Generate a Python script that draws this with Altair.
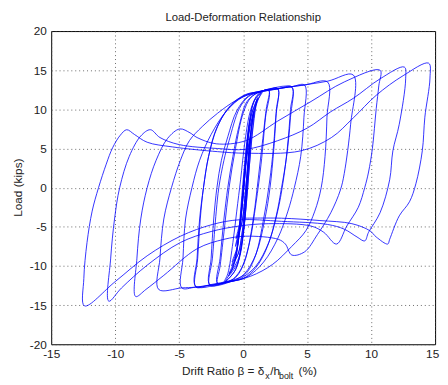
import altair as alt
import pandas as pd

# ---- axis ticks ----
x_ticks = [-15, -10, -5, 0, 5, 10, 15]
y_ticks = [-20, -15, -10, -5, 0, 5, 10, 15, 20]

# ---- hysteresis branches (drift %, load kips) ----
# u = reloading toward positive peak, d = unloading toward negative peak
u01 = [(0.0, 0.0), (0.2, 3.0), (0.5, 6.0)]
d01 = [(0.5, 6.0), (0.35, 3.0), (0.15, -1.0), (-0.1, -4.5), (-0.55, -6.5)]
u02 = [(-0.55, -6.5), (-0.2, -4.0), (0.05, 0.0), (0.3, 4.0), (0.6, 7.0)]
d02 = [(0.6, 7.0), (0.4, 3.5), (0.2, 0.0), (-0.05, -4.0), (-0.6, -7.5)]
u03 = [(-0.6, -7.5), (-0.3, -5.0), (0.0, 0.0), (0.25, 4.0), (0.5, 7.5), (0.8, 9.5)]
d03 = [(0.8, 9.5), (0.55, 6.5), (0.35, 2.0), (0.15, -2.0), (-0.1, -6.0), (-0.4, -8.5), (-0.85, -9.5)]
u04 = [(-0.85, -9.5), (-0.45, -7.5), (-0.1, -3.0), (0.15, 2.0), (0.4, 6.5), (0.85, 9.8)]
d04 = [(0.85, 9.8), (0.6, 7.0), (0.4, 2.5), (0.2, -1.5), (-0.05, -5.5), (-0.4, -8.5), (-0.9, -10.0)]
u05 = [(-0.9, -10.0), (-0.5, -8.0), (-0.2, -4.0), (0.1, 1.0), (0.35, 6.0), (0.6, 9.0), (1.1, 11.3)]
d05 = [(1.1, 11.3), (0.75, 9.0), (0.5, 5.0), (0.3, 0.5), (0.05, -5.0), (-0.35, -9.0), (-1.1, -11.0)]
u06 = [(-1.1, -11.0), (-0.6, -9.0), (-0.25, -5.0), (0.05, 0.0), (0.3, 5.0), (0.6, 9.0), (1.15, 11.5)]
d06 = [(1.15, 11.5), (0.8, 9.5), (0.55, 5.5), (0.3, 0.0), (0.05, -5.5), (-0.4, -9.5), (-1.15, -11.3)]
u07 = [(-1.15, -11.3), (-0.65, -9.5), (-0.3, -5.5), (0.0, 0.0), (0.25, 5.0), (0.55, 9.0), (0.9, 11.2), (1.4, 12.2)]
d07 = [(1.4, 12.2), (1.0, 10.5), (0.7, 7.0), (0.45, 2.0), (0.2, -3.0), (-0.15, -7.5), (-0.6, -10.5), (-1.4, -12.0)]
u08 = [(-1.4, -12.0), (-0.8, -10.2), (-0.4, -6.5), (-0.1, -1.0), (0.2, 4.5), (0.5, 8.5), (0.85, 11.0), (1.5, 12.2)]
d08 = [(1.5, 12.2), (1.1, 11.0), (0.8, 8.0), (0.5, 3.0), (0.25, -2.0), (-0.1, -7.0), (-0.6, -10.5), (-1.5, -12.1)]
u09 = [(-1.5, -12.1), (-1.2, -11.0), (-0.8, -7.0), (-0.5, -3.0), (-0.2, 1.0), (0.15, 6.0), (0.6, 10.0), (1.2, 12.0), (2.0, 12.5)]
d09 = [(2.0, 12.5), (1.8, 10.0), (1.45, 5.0), (1.1, 0.0), (0.7, -5.0), (0.1, -9.5), (-0.6, -11.5), (-1.3, -12.0), (-2.0, -12.3)]
u10 = [(-2.0, -12.3), (-1.8, -10.0), (-1.45, -5.0), (-1.1, 0.0), (-0.6, 5.0), (0.0, 9.5), (0.6, 11.5), (1.3, 12.2), (2.0, 12.4)]
d10 = [(2.0, 12.4), (1.75, 9.0), (1.4, 3.0), (1.0, -2.0), (0.5, -7.0), (-0.2, -10.5), (-1.0, -11.9), (-2.0, -12.2)]
u11 = [(-2.0, -12.2), (-1.8, -9.0), (-1.5, -4.0), (-1.2, 0.0), (-0.8, 4.0), (-0.3, 8.0), (0.3, 11.0), (1.2, 12.2), (2.0, 12.5), (2.7, 12.7)]
d11 = [(2.7, 12.7), (2.55, 9.0), (2.3, 4.0), (2.0, 0.0), (1.6, -4.0), (0.96, -8.7), (0.2, -11.0), (-0.6, -11.7), (-1.4, -12.1), (-2.6, -12.5)]
u12 = [(-2.6, -12.5), (-2.4, -9.0), (-2.1, -3.0), (-1.9, 0.0), (-1.5, 3.5), (-1.1, 6.0), (-0.3, 10.1), (0.4, 11.6), (1.2, 12.2), (2.7, 12.6)]
d12 = [(2.7, 12.6), (2.6, 10.0), (2.4, 5.0), (2.1, 0.0), (1.7, -4.0), (1.0, -8.5), (0.1, -11.0), (-0.8, -11.9), (-2.6, -12.4)]
u13 = [(-2.6, -12.4), (-2.5, -9.0), (-2.3, -4.0), (-2.05, 0.0), (-1.7, 3.5), (-1.2, 6.5), (-0.5, 9.8), (0.4, 11.7), (1.3, 12.2), (2.7, 12.6), (3.8, 12.9)]
d13 = [(3.8, 12.9), (3.7, 9.0), (3.4, 4.0), (3.0, 0.0), (2.6, -3.5), (1.9, -7.5), (1.0, -10.2), (0.0, -11.6), (-1.3, -12.0), (-2.6, -12.4), (-3.7, -12.7)]
u14 = [(-3.7, -12.7), (-3.55, -9.0), (-3.35, -4.0), (-3.1, 0.0), (-2.7, 4.0), (-2.1, 7.5), (-1.2, 10.0), (0.0, 11.7), (1.3, 12.3), (3.8, 12.8)]
d14 = [(3.8, 12.8), (3.7, 10.0), (3.45, 5.0), (3.1, 0.5), (2.7, -3.0), (2.0, -7.0), (1.0, -10.0), (-0.2, -11.6), (-1.4, -12.1), (-3.7, -12.6)]
u15 = [(-3.7, -12.6), (-3.6, -9.0), (-3.4, -4.0), (-3.1, 0.0), (-2.7, 4.0), (-2.0, 7.8), (-1.0, 10.5), (0.2, 11.9), (1.5, 12.3), (3.8, 12.9), (4.8, 13.1)]
d15 = [(4.8, 13.1), (4.75, 9.0), (4.5, 4.0), (4.0, 0.0), (3.5, -3.0), (2.7, -6.5), (1.6, -9.5), (0.3, -11.4), (-1.3, -12.1), (-3.7, -12.7), (-4.8, -12.8)]
u16 = [(-4.8, -12.8), (-4.7, -9.0), (-4.5, -4.0), (-4.0, 0.0), (-3.4, 3.5), (-2.5, 6.8), (-1.3, 9.8), (0.0, 11.6), (1.5, 12.3), (3.8, 12.9), (4.8, 13.1), (6.6, 13.5)]
d16 = [(6.6, 13.5), (6.55, 9.0), (6.4, 4.0), (6.1, 0.0), (5.6, -3.0), (4.9, -5.5), (3.8, -7.5), (2.3, -9.8), (0.6, -11.3), (-1.3, -12.1), (-3.7, -12.7), (-4.8, -12.8), (-6.6, -13.0)]
u17 = [(-6.6, -13.0), (-6.5, -9.0), (-6.2, -4.0), (-5.6, 0.0), (-4.9, 3.5), (-4.2, 6.0), (-3.2, 7.8), (-2.0, 9.5), (-0.5, 11.2), (1.0, 12.2), (3.8, 12.9), (6.6, 13.6), (8.6, 14.4)]
d17 = [(8.6, 14.4), (8.4, 8.1), (7.9, 1.8), (7.6, -0.3), (6.85, -3.2), (5.8, -6.0), (4.8, -8.2), (3.8, -8.6), (3.3, -7.2), (2.75, -6.6), (0.2, -6.2), (-1.5, -6.6), (-3.6, -7.8), (-6.2, -11.2), (-7.6, -13.0), (-8.4, -13.9)]
u18 = [(-8.4, -13.9), (-8.3, -9.0), (-8.0, -4.0), (-7.5, 0.0), (-6.8, 3.5), (-5.9, 6.3), (-4.95, 7.5), (-4.15, 7.0), (-3.6, 6.4), (-2.1, 5.6), (0.2, 6.0), (2.7, 8.5), (5.3, 11.0), (7.9, 13.5), (10.7, 15.0)]
d18 = [(10.7, 15.0), (10.6, 13.0), (10.4, 10.1), (10.1, 5.0), (9.8, 2.0), (9.5, 0.0), (9.0, -2.5), (8.1, -4.9), (7.3, -7.2), (6.3, -5.7), (5.3, -4.9), (2.0, -4.6), (-0.3, -4.9), (-2.5, -5.6), (-4.9, -7.0), (-7.5, -9.9), (-9.5, -12.8), (-10.5, -14.5)]
u19 = [(-10.5, -14.5), (-10.35, -9.0), (-10.05, -4.0), (-9.65, 0.0), (-8.9, 4.0), (-8.0, 6.6), (-7.25, 7.4), (-6.5, 6.4), (-5.0, 5.5), (-2.0, 5.0), (0.2, 4.9), (2.7, 6.0), (5.0, 7.6), (6.85, 9.7), (8.6, 11.4), (10.7, 13.9), (12.6, 15.4)]
d19 = [(12.6, 15.4), (12.7, 13.9), (12.2, 8.1), (11.7, 4.7), (11.45, 1.0), (10.7, -3.2), (9.8, -5.7), (9.5, -6.8), (8.9, -6.3), (7.9, -5.3), (6.6, -4.7), (3.0, -4.3), (-0.3, -4.1), (-2.4, -4.7), (-4.9, -6.2), (-7.5, -8.7), (-10.0, -12.0), (-12.4, -15.1)]
u20 = [(-12.4, -15.1), (-12.45, -11.6), (-12.2, -7.0), (-11.8, -3.0), (-11.3, 0.0), (-10.7, 3.0), (-10.2, 5.1), (-9.6, 6.7), (-9.1, 7.4), (-8.5, 6.8), (-7.5, 5.8), (-5.5, 5.2), (-2.0, 4.6), (0.2, 4.4), (4.5, 4.7), (6.9, 6.4), (8.6, 8.9), (10.4, 11.8), (12.5, 14.3), (14.5, 15.9)]
d20 = [(14.5, 15.9), (14.6, 14.0), (14.2, 9.0), (14.0, 4.7), (13.5, 0.5), (13.0, -1.8), (12.2, -3.6), (11.45, -6.6), (11.3, -7.2), (10.4, -6.3), (9.9, -5.5), (8.5, -4.6), (6.0, -4.2), (3.0, -3.9), (0.0, -3.9)]

branches = [u01, d01, u02, d02, u03, d03, u04, d04, u05, d05, u06, d06, u07, d07,
            u08, d08, u09, d09, u10, d10, u11, d11, u12, d12, u13, d13, u14, d14,
            u15, d15, u16, d16, u17, d17, u18, d18, u19, d19, u20, d20]

rows = []
for bi, br in enumerate(branches):
    pts = br if bi == 0 else br[1:]
    for (dx, ld) in pts:
        rows.append({"i": len(rows), "drift": dx, "load": ld})
df = pd.DataFrame(rows)

FONT = "Liberation Sans"
W, H = 391, 319

xs = alt.Scale(domain=[-15, 15], nice=False, zero=False)
ys = alt.Scale(domain=[-20, 20], nice=False, zero=False)

axis_common = dict(grid=True, gridDash=[1, 3], gridColor="#444", gridOpacity=0.8,
                   domain=False, ticks=False, labelFont=FONT, labelFontSize=12,
                   labelColor="#222", title=None, labelExpr="'' + datum.value",
                   labelFlush=False, labelOverlap=False)

lines = alt.Chart(df).mark_line(color="#0000ff", strokeWidth=1, opacity=0.8,
                                interpolate="catmull-rom").encode(
    x=alt.X("drift:Q", scale=xs, axis=alt.Axis(
        values=x_ticks, labelPadding=4,
        labelOffset={"condition": {"test": "datum.value == 15", "value": -3}, "value": 0},
        **axis_common)),
    y=alt.Y("load:Q", scale=ys, axis=alt.Axis(values=y_ticks, labelPadding=5, **axis_common)),
    order="i:Q",
)

one = pd.DataFrame([{"a": 1}])

def txt(s, x, y, size=12, align="left", baseline="alphabetic", angle=0):
    return alt.Chart(one).mark_text(text=s, font=FONT, fontSize=size, align=align,
                                    baseline=baseline, angle=angle, color="#222").encode(
        x=alt.value(x), y=alt.value(y))

title = txt("Load-Deformation Relationship", W / 2, -13, size=11.5, align="center", baseline="middle")
ytitle = txt("Load (kips)", -34, H / 2, size=12, align="center", baseline="middle", angle=270)
xt1 = txt("Drift Ratio β = δ", 217, 350, align="right")
xt2 = txt("x", 218, 354, size=9)
xt3 = txt("/h", 223, 350)
xt4 = txt("bolt", 232, 354, size=9)
xt5 = txt("(%)", 252, 350)

chart = alt.layer(lines, title, ytitle, xt1, xt2, xt3, xt4, xt5).properties(
    width=W, height=H,
    autosize=alt.AutoSizeParams(type="none"),
    padding={"left": 44, "top": 20, "right": 5, "bottom": 38},
).configure_view(stroke="black", strokeWidth=1)

chart.save("out.html", embed_options={"renderer": "svg", "actions": False})
